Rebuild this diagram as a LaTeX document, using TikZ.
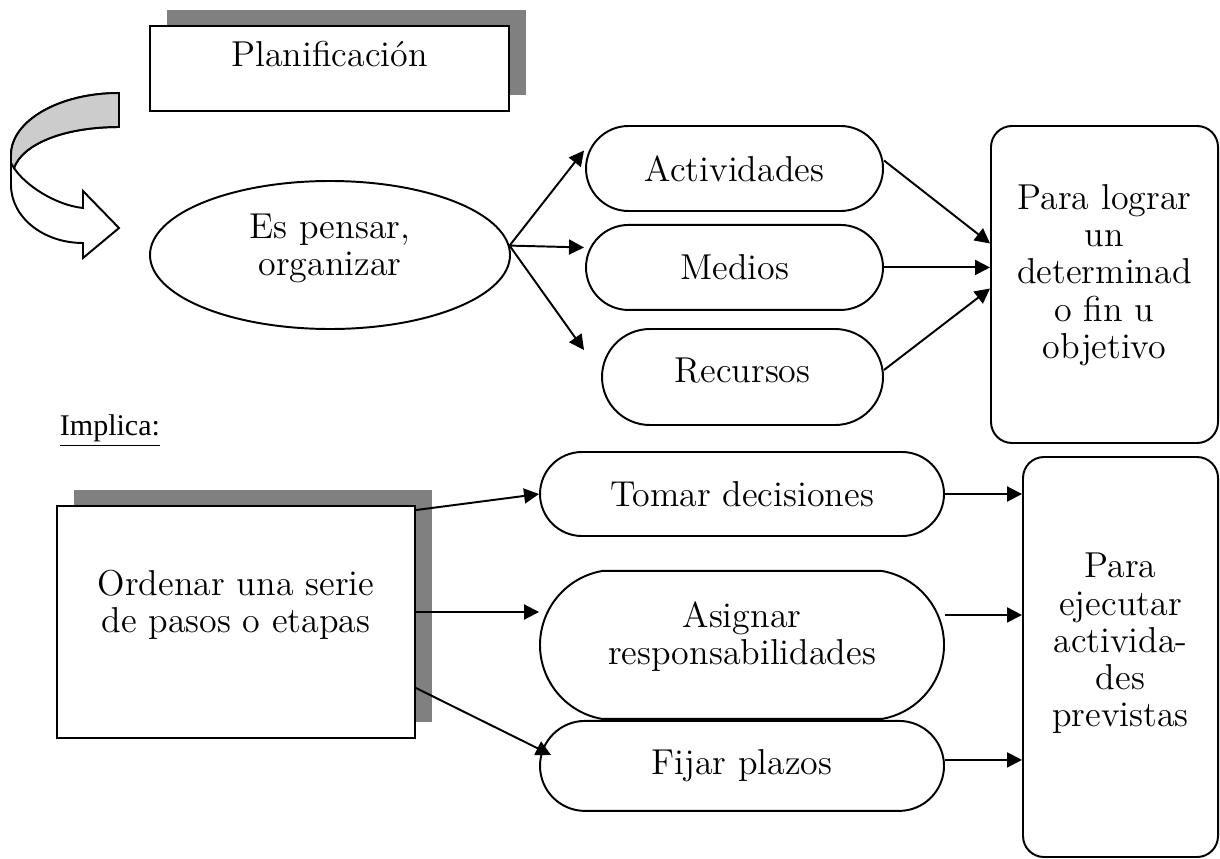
\documentclass[tikz,border=0pt]{standalone}
\usepackage{fontspec}
\usepackage{tikz}
\usetikzlibrary{positioning,calc,shapes.geometric,shapes.misc,shadows,arrows.meta}
\newfontfamily\timesf{Liberation Serif}
\definecolor{shade}{RGB}{128,128,128}
\definecolor{band}{RGB}{204,204,204}
\newcommand{\px}{0.3333pt}

\begin{document}
\begin{tikzpicture}[x=\px, y=-\px, font=\fontsize{12}{12.4}\selectfont, line width=0.65pt,
	box/.style={draw, fill=white, rectangle, inner sep=0pt, align=center},
	pill/.style={draw, fill=white, rounded rectangle, inner sep=0pt, align=center},
	goal/.style={draw, fill=white, rectangle, rounded corners=7pt, inner sep=0pt, align=center},
	sh/.style={drop shadow={shadow xshift=5.5pt, shadow yshift=5.33pt, fill=shade, opacity=1}},
	arr/.style={-{Triangle[length=5pt,width=5pt]}}]
	\useasboundingbox (0,0) rectangle (1220,858);
	%flecha curva
	\draw[fill=white] (119,93) .. controls (59,93) and (11,121) .. (11,155) -- (11,185)
		.. controls (11,217) and (43,243) .. (83,243) -- (83,258) -- (119,228) -- (83,191) -- (83,208)
		.. controls (55,205) and (25,185) .. (14,168) .. controls (22,145) and (62,127) .. (119,127) -- cycle;
	\draw[fill=band] (119,93) .. controls (59,93) and (11,121) .. (11,155) -- (11,163) -- (14,168)
		.. controls (22,145) and (62,127) .. (119,127) -- cycle;
	%arriba
	\node(plan)[box, sh, minimum width=359*\px, minimum height=85*\px, text height=13.6pt, text depth=14.7pt] at (329.5,68.5) {Planificación};
	\node(esp)[draw, ellipse, fill=white, inner sep=0pt, align=center, minimum width=360*\px, minimum height=148*\px] at (330,255) {Es pensar,\\organizar\\[-5.7pt]\mbox{}};
	\node(act)[pill, minimum width=297*\px, minimum height=85*\px] at (734.5,168.5) {Actividades};
	\node(med)[pill, minimum width=297*\px, minimum height=85*\px, below=4pt of act] {Medios};
	\node(rec)[pill, minimum width=281*\px, minimum height=96*\px, text height=8.2pt, text depth=4.6pt] at (742.5,377) {Recursos};
	\node(obj)[goal, minimum width=227*\px, minimum height=317*\px] at (1104.5,284.5) {Para lograr\\un\\determinad\\o fin u\\objetivo\\[-3.6pt]\mbox{}};
	\draw[arr] (esp.3) -- ($(act.west)+(-1,-18)$);
	\draw[arr] (esp.3) -- ($(med.west)+(-1,-20)$);
	\draw[arr] (esp.3) -- ($(rec.west)+(-17,-27)$);
	\draw[arr] ($(act.east)+(0,-8)$) -- ($(obj.west)+(0,-41)$);
	\draw[arr] (med.east) -- (med.east -| obj.west);
	\draw[arr] ($(rec.east)+(0,-7)$) -- ($(obj.west)+(0,4)$);
	%abajo
	\node(imp)[anchor=base west, inner sep=0pt, font=\timesf\fontsize{10}{12}\selectfont] at (59,435) {\underline{Implica:}};
	\node(ord)[box, sh, minimum width=358*\px, minimum height=232*\px] at (236,622) {Ordenar una serie\\de pasos o etapas\\[1.6pt]\mbox{}};
	\node(tom)[pill, minimum width=404*\px, minimum height=84*\px] at (742,494) {Tomar decisiones};
	\node(asg)[pill, rounded rectangle arc length=160, minimum width=404*\px, minimum height=148*\px, below=11pt of tom] {Asignar\\responsabilidades\\[-4.5pt]\mbox{}};
	\node(fij)[pill, minimum width=404*\px, minimum height=90*\px, below=0pt of asg] {Fijar plazos};
	\node(eje)[goal, minimum width=195*\px, minimum height=400*\px] at (1120.5,657) {Para\\ejecutar\\activida-\\des\\previstas\\[-1.1pt]\mbox{}};
	\coordinate (o2) at ($(ord.east)+(0,-10)$);
	\coordinate (a2) at ($(asg.east)+(0,-30)$);
	\coordinate (f2) at ($(fij.east)+(0,-6)$);
	\draw[arr] ($(ord.north east)+(0,5)$) -- (tom.west);
	\draw[arr] (o2) -- (o2 -| asg.west);
	\draw[arr] ($(ord.east)+(0,66)$) -- ($(fij.west)+(12,-11)$);
	\draw[arr] (tom.east) -- (tom.east -| eje.west);
	\draw[arr] (a2) -- (a2 -| eje.west);
	\draw[arr] (f2) -- (f2 -| eje.west);
\end{tikzpicture}
\end{document}
